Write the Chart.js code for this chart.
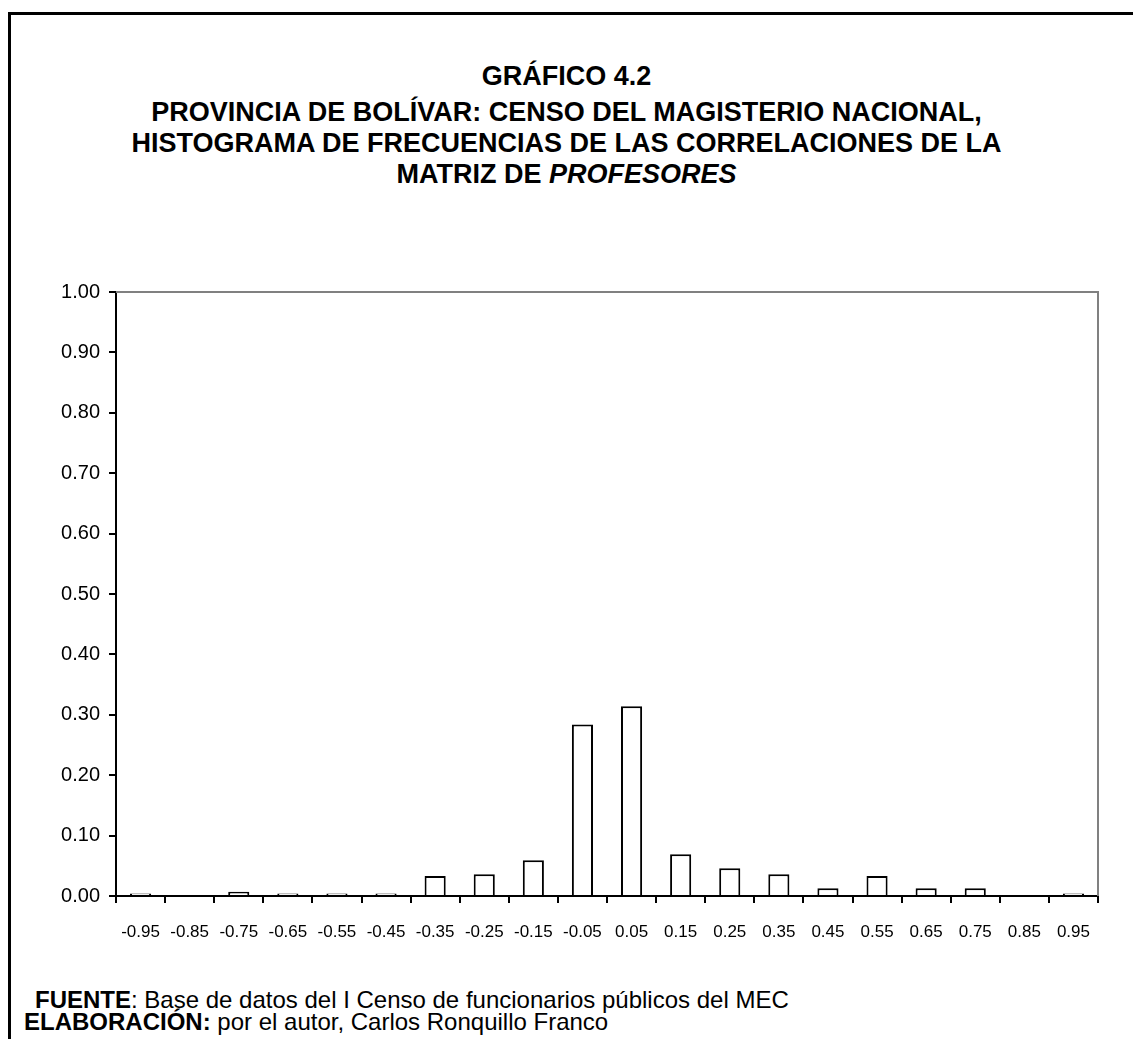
<!DOCTYPE html>
<html>
<head>
<meta charset="utf-8">
<script src="https://cdn.jsdelivr.net/npm/chart.js@4.4.1/dist/chart.umd.min.js"></script>
<style>
  body { margin: 0; background: #fff; font-family: "Liberation Sans", Arial, sans-serif; }
  #page { position: relative; width: 1133px; height: 1039px; overflow: hidden; }
  #frame { position: absolute; left: 8px; top: 12px; width: 1200px; height: 1100px;
           border-top: 3px solid #000; border-left: 3px solid #000; }
  .titulo { position: absolute; left: 0; width: 1133px; text-align: center; font-weight: bold;
            font-size: 27px; color: #000; }
  #wrap { position: absolute; left: 0; top: 270px; width: 1133px; height: 676px; }
  .nota { position: absolute; font-size: 24px; line-height: 22px; color: #000; white-space: nowrap; }
</style>
</head>
<body>
<div id="page">
  <div id="frame"></div>
  <div class="titulo" style="top:61px">GRÁFICO 4.2</div>
  <div class="titulo" style="top:97px; line-height:31px">PROVINCIA DE BOLÍVAR: CENSO DEL MAGISTERIO NACIONAL,<br>HISTOGRAMA DE FRECUENCIAS DE LAS CORRELACIONES DE LA<br>MATRIZ DE <i>PROFESORES</i></div>
  <div id="wrap"><canvas id="histograma"></canvas></div>
  <div class="nota" style="left:35px; top:989px"><b>FUENTE</b>: Base de datos del I Censo de funcionarios públicos del MEC</div>
  <div class="nota" style="left:24px; top:1011px"><b>ELABORACIÓN:</b> por el autor, Carlos Ronquillo Franco</div>
</div>
<script>
// marcas de clase de las correlaciones
const clases = ['-0.95', '-0.85', '-0.75', '-0.65', '-0.55', '-0.45', '-0.35', '-0.25', '-0.15', '-0.05',
                '0.05', '0.15', '0.25', '0.35', '0.45', '0.55', '0.65', '0.75', '0.85', '0.95'];
// frecuencias relativas
const frecuencias = [0.004, 0, 0.007, 0.004, 0.004, 0.004, 0.033, 0.036, 0.059, 0.284,
                     0.314, 0.069, 0.046, 0.036, 0.013, 0.033, 0.013, 0.013, 0, 0.004];
const yMin = 0, yMax = 1, yPaso = 0.1;

// borde gris superior y derecho del area de trazado
const bordeGris = {
  id: 'bordeGris',
  afterDraw(chart) {
    const { ctx, chartArea: a } = chart;
    ctx.save();
    ctx.strokeStyle = '#808080';
    ctx.lineWidth = 2;
    ctx.beginPath();
    ctx.moveTo(a.left, a.top);
    ctx.lineTo(a.right, a.top);
    ctx.lineTo(a.right, a.bottom);
    ctx.stroke();
    ctx.restore();
  }
};

new Chart(document.getElementById('histograma'), {
  type: 'bar',
  data: {
    labels: clases,
    datasets: [{
      data: frecuencias,
      backgroundColor: '#ffffff',
      borderColor: '#000000',
      borderWidth: 2,
      categoryPercentage: 1,
      barPercentage: 0.43
    }]
  },
  options: {
    responsive: true,
    maintainAspectRatio: false,
    animation: false,
    layout: { padding: { top: 22, right: 35, left: 0, bottom: 0 } },
    plugins: { legend: { display: false }, tooltip: { enabled: false } },
    scales: {
      x: {
        grid: { offset: true, drawOnChartArea: false, color: '#000', lineWidth: 2, tickLength: 7 },
        border: { color: '#000', width: 2 },
        ticks: { color: '#000', font: { family: 'Liberation Sans', size: 17 },
                 padding: 19, maxRotation: 0, autoSkip: false },
        afterFit(s) { s.height = 50; }
      },
      y: {
        min: yMin, max: yMax,
        grid: { drawOnChartArea: false, color: '#000', lineWidth: 2, tickLength: 7 },
        border: { color: '#000', width: 2 },
        ticks: { stepSize: yPaso, color: '#000', font: { family: 'Liberation Sans', size: 20 }, padding: 9,
                 callback: v => v.toFixed(2) },
        afterFit(s) { s.width = 116; }
      }
    }
  },
  plugins: [bordeGris]
});
</script>
</body>
</html>
